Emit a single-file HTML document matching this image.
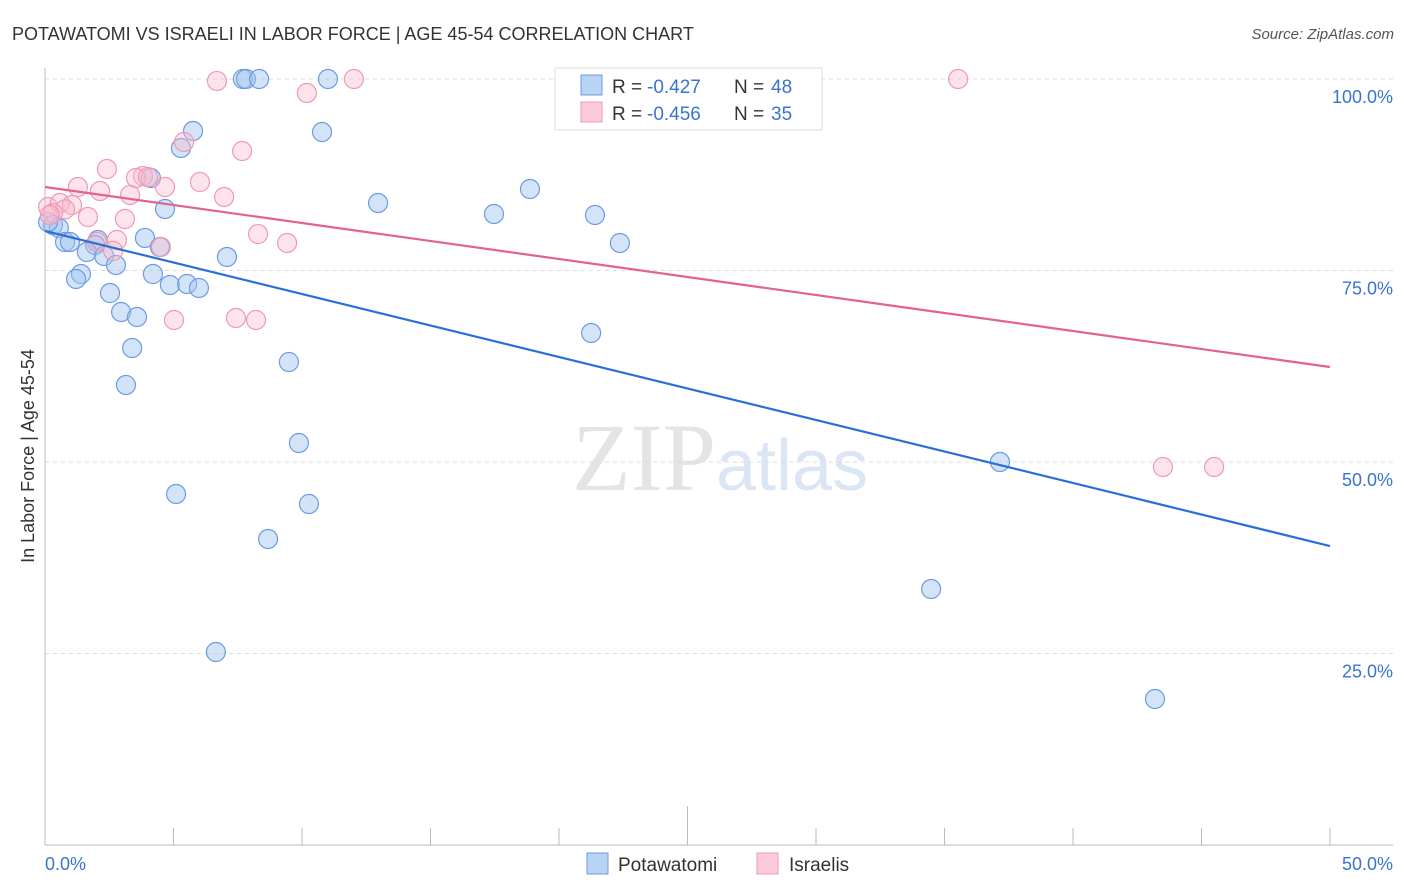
<!DOCTYPE html>
<html><head><meta charset="utf-8"><style>
body{margin:0;background:#fff;font-family:"Liberation Sans",sans-serif}
svg{display:block}
</style></head><body>
<svg width="1406" height="892" viewBox="0 0 1406 892">
<text x="12" y="40" font-size="18" fill="#333">POTAWATOMI VS ISRAELI IN LABOR FORCE | AGE 45-54 CORRELATION CHART</text>
<text x="1394" y="39" font-size="15" fill="#555" text-anchor="end" font-style="italic">Source: ZipAtlas.com</text>
<text x="716" y="490" font-size="96" fill="#e4e4e4" text-anchor="end" font-family="Liberation Serif">ZIP</text>
<text x="716" y="490" font-size="72" fill="#dbe6f5">atlas</text>
<g id="grid"></g>
<g id="axes"></g>
<g id="pts"></g>
<g id="lines"></g>
<text transform="translate(34,456) rotate(-90)" font-size="18" fill="#333" text-anchor="middle">In Labor Force | Age 45-54</text>
<text x="45" y="870" font-size="18" fill="#3a74d0">0.0%</text>
<text x="1393" y="870" font-size="18" fill="#3a74d0" text-anchor="end">50.0%</text>
<g>
<rect x="555" y="68" width="267" height="62" fill="#fff" stroke="#ddd"/>
<rect x="581" y="75" width="21" height="20" fill="#b9d3f5" stroke="#6d9be0"/>
<rect x="581" y="102" width="21" height="20" fill="#fcc9d8" stroke="#ef9ab4"/>
<text x="612" y="93" font-size="19" fill="#333">R =</text>
<text x="647" y="93" font-size="19" fill="#3a74d0">-0.427</text>
<text x="734" y="93" font-size="19" fill="#333">N =</text>
<text x="771" y="93" font-size="19" fill="#3a74d0">48</text>
<text x="612" y="120" font-size="19" fill="#333">R =</text>
<text x="647" y="120" font-size="19" fill="#3a74d0">-0.456</text>
<text x="734" y="120" font-size="19" fill="#333">N =</text>
<text x="771" y="120" font-size="19" fill="#3a74d0">35</text>
</g>
<g>
<rect x="587" y="853" width="21" height="21" fill="#b9d3f5" stroke="#6d9be0"/>
<text x="618" y="871" font-size="19" fill="#333">Potawatomi</text>
<rect x="757" y="853" width="21" height="21" fill="#fcc9d8" stroke="#ef9ab4"/>
<text x="789" y="871" font-size="19" fill="#333">Israelis</text>
</g>
</svg>
<script>
const blueX=[7.70,7.82,8.33,11.01,5.76,10.78,5.29,4.12,18.87,12.96,4.67,17.47,21.40,0.31,0.54,0.78,0.97,2.06,1.95,3.89,22.37,4.47,1.63,2.30,2.76,7.08,1.40,1.21,4.20,4.86,5.53,5.99,2.53,2.96,3.58,21.25,3.39,9.49,3.15,9.88,37.16,5.10,10.27,8.68,34.48,6.65,43.19,0.12];
const blueY=[100,100,100,100,93.21,93.08,90.99,87.08,85.64,83.81,83.03,82.38,82.25,80.94,80.55,78.72,78.72,78.98,78.33,79.25,78.59,78.07,77.42,76.90,75.72,76.76,74.54,73.89,74.54,73.11,73.24,72.72,72.06,69.58,68.93,66.84,64.88,63.06,60.05,52.48,50.00,45.82,44.52,39.95,33.42,25.20,19.06,81.33];
const pinkX=[6.69,12.02,35.53,10.19,5.41,7.67,2.41,3.81,3.54,4.01,1.28,4.67,2.14,6.03,3.31,6.97,0.12,0.58,1.05,0.78,0.31,1.67,3.11,8.29,2.80,2.02,9.42,4.51,2.65,5.02,7.43,8.21,43.50,45.49,0.19];
const pinkY=[99.74,100,100,98.17,91.78,90.60,88.25,87.33,87.08,87.20,85.90,85.90,85.38,86.55,84.86,84.60,83.29,83.81,83.55,82.99,82.48,81.98,81.72,79.76,78.98,78.72,78.59,78.07,77.55,68.54,68.80,68.54,49.35,49.35,82.25];
const blueTrend=[80.16,39.03];
const pinkTrend=[85.9,62.4];
const yTicks=[25,50,75,100];
const yTickLabels=["25.0%","50.0%","75.0%","100.0%"];
const xTicks=[0,5,10,15,20,25,30,35,40,45,50];
const NS="http://www.w3.org/2000/svg";
const sx=v=>45+v/50*1285, sy=v=>845-v/100*766;
function mk(t,a,p){const e=document.createElementNS(NS,t);for(const k in a)e.setAttribute(k,a[k]);p.appendChild(e);return e;}
const grid=document.getElementById('grid'),axes=document.getElementById('axes');
yTicks.forEach((t,i)=>{
 const l=mk('line',{x1:45,x2:1393,y1:sy(t),y2:sy(t),stroke:'#ddd','stroke-dasharray':'4,4'},grid);
 
 
 const tx=mk('text',{x:1393,y:sy(t)+24,'font-size':18,fill:'#3a74d0','text-anchor':'end'},grid);
 tx.textContent=yTickLabels[i];
 
 
});
let a=mk('line',{x1:45,x2:45,y1:68,y2:845,stroke:'#bbb'},axes);


a=mk('line',{x1:45,x2:1393,y1:845,y2:845,stroke:'#bbb'},axes);


xTicks.forEach((t,i)=>{
 const l=mk('line',{x1:sx(t),x2:sx(t),y1:845,y2:(i==5?806:828),stroke:'#bbb'},axes);
 
 
});
const pts=document.getElementById('pts');
blueX.forEach((x,i)=>{
 const c=mk('circle',{cx:sx(x),cy:sy(blueY[i]),r:9.5,fill:'rgba(160,196,240,0.45)',stroke:'#6d9be0','stroke-width':1.2},pts);
 
 
});
pinkX.forEach((x,i)=>{
 const c=mk('circle',{cx:sx(x),cy:sy(pinkY[i]),r:9.5,fill:'rgba(250,185,205,0.4)',stroke:'#ef9ab4','stroke-width':1.2},pts);
 
 
});
const lines=document.getElementById('lines');
let tl=mk('line',{x1:sx(0),x2:sx(50),y1:sy(blueTrend[0]),y2:sy(blueTrend[1]),stroke:'#2a6fd6','stroke-width':2.2},lines);


tl=mk('line',{x1:sx(0),x2:sx(50),y1:sy(pinkTrend[0]),y2:sy(pinkTrend[1]),stroke:'#e4628e','stroke-width':2.2},lines);


</script>
</body></html>
